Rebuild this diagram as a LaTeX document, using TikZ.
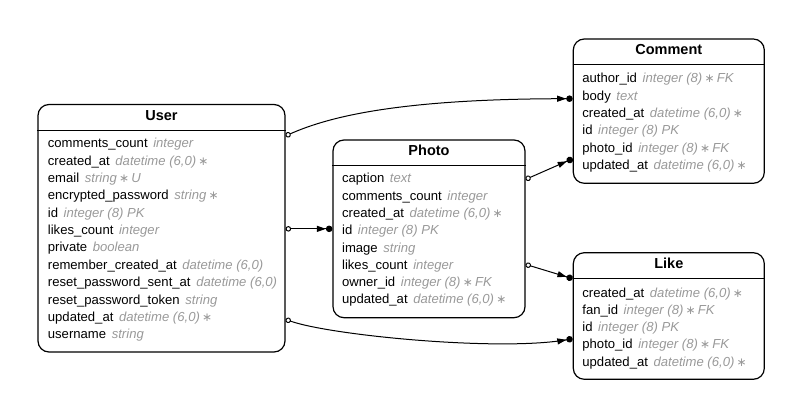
\documentclass[tikz,border=0pt]{standalone}
\usepackage{fontspec}
\setmainfont{Liberation Sans}
\newfontfamily\symfont{DejaVu Sans}
\usetikzlibrary{arrows.meta}
\definecolor{typegray}{HTML}{999999}
\newcommand{\dtype}[1]{\hspace{2pt}{\color{typegray}\itshape #1}}
\newcommand{\nn}{{\symfont\upshape\fontsize{12}{14}\selectfont ∗}}
\begin{document}
\begin{tikzpicture}[x=1pt,y=-1pt,
		entity/.style={draw,line width=1.2pt,rounded corners=11pt,inner sep=0pt},
		etitle/.style={anchor=base,inner sep=0pt,font=\bfseries\fontsize{14.5}{16}\selectfont},
		efield/.style={anchor=base west,inner sep=0pt,font=\fontsize{13.1}{15}\selectfont},
		rel/.style={line width=1pt,{Circle[open,length=5.5pt,width=5.5pt]}-{Triangle[length=9pt,width=6pt]Circle[length=6.5pt,width=6.5pt]}}]
	\useasboundingbox (0,0) rectangle (803,419);
	% tables
	\node[entity,minimum width=247pt,minimum height=247.5pt] (user) at (161.5,228.25) {};
	\node[entity,minimum width=192pt,minimum height=177.7pt] (photo) at (429,228.85) {};
	\node[entity,minimum width=191pt,minimum height=144.3pt] (comment) at (668.8,111.15) {};
	\node[entity,minimum width=191pt,minimum height=126.6pt] (like) at (668.8,316) {};
	\foreach \t/\n in {user/User,photo/Photo,comment/Comment,like/Like} {
		\node[etitle] (\t-title) at ([yshift=-16.5pt]\t.north) {\n};
		\draw[line width=1.2pt] ([yshift=-26.3pt]\t.north west) -- ([yshift=-26.3pt]\t.north east);
	}
	% fields
	\foreach \f [count=\i] in {
		{comments\_count \dtype{integer}},
		{created\_at \dtype{datetime (6,0)\,\nn}},
		{email \dtype{string\,\nn\,U}},
		{encrypted\_password \dtype{string\,\nn}},
		{id \dtype{integer (8) PK}},
		{likes\_count \dtype{integer}},
		{private \dtype{boolean}},
		{remember\_created\_at \dtype{datetime (6,0)}},
		{reset\_password\_sent\_at \dtype{datetime (6,0)}},
		{reset\_password\_token \dtype{string}},
		{updated\_at \dtype{datetime (6,0)\,\nn}},
		{username \dtype{string}}}
		\node[efield] (user-\i) at ([xshift=10.3pt,yshift={-44pt-(\i-1)*17.35pt}]user.north west) {\f};
	\foreach \f [count=\i] in {
		{caption \dtype{text}},
		{comments\_count \dtype{integer}},
		{created\_at \dtype{datetime (6,0)\,\nn}},
		{id \dtype{integer (8) PK}},
		{image \dtype{string}},
		{likes\_count \dtype{integer}},
		{owner\_id \dtype{integer (8)\,\nn\,FK}},
		{updated\_at \dtype{datetime (6,0)\,\nn}}}
		\node[efield] (photo-\i) at ([xshift=9.5pt,yshift={-43.5pt-(\i-1)*17.3pt}]photo.north west) {\f};
	\foreach \f [count=\i] in {
		{author\_id \dtype{integer (8)\,\nn\,FK}},
		{body \dtype{text}},
		{created\_at \dtype{datetime (6,0)\,\nn}},
		{id \dtype{integer (8) PK}},
		{photo\_id \dtype{integer (8)\,\nn\,FK}},
		{updated\_at \dtype{datetime (6,0)\,\nn}}}
		\node[efield] (comment-\i) at ([xshift=9.5pt,yshift={-44.3pt-(\i-1)*17.35pt}]comment.north west) {\f};
	\foreach \f [count=\i] in {
		{created\_at \dtype{datetime (6,0)\,\nn}},
		{fan\_id \dtype{integer (8)\,\nn\,FK}},
		{id \dtype{integer (8) PK}},
		{photo\_id \dtype{integer (8)\,\nn\,FK}},
		{updated\_at \dtype{datetime (6,0)\,\nn}}}
		\node[efield] (like-\i) at ([xshift=9.5pt,yshift={-45pt-(\i-1)*17.3pt}]like.north west) {\f};
	% relations
	\draw[rel] ([yshift=-32pt]user.north east) .. controls +(45,-20) and +(-170,0) .. ([yshift=-60.3pt]comment.north west);
	\draw[rel] (user.east |- photo.west) -- (photo.west);
	\draw[rel] ([yshift=-215.5pt]user.north east) .. controls +(45,16) and +(-73,13) .. ([yshift=-86.6pt]like.north west);
	\draw[rel] ([yshift=-40pt]photo.north east) -- ([yshift=-120.3pt]comment.north west);
	\draw[rel] ([yshift=-125pt]photo.north east) -- ([yshift=-26.6pt]like.north west);
\end{tikzpicture}
\end{document}
